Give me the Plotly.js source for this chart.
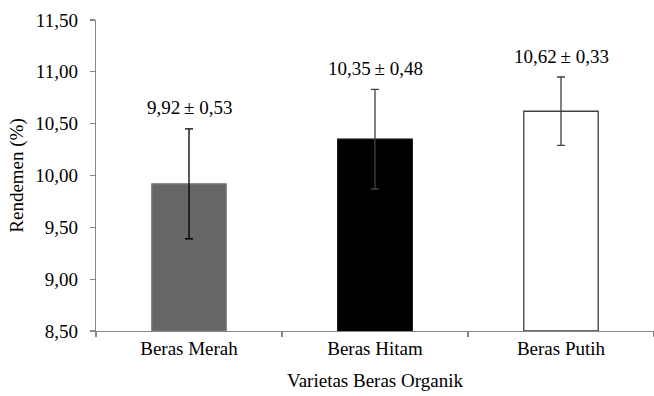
<!DOCTYPE html>
<html>
<head>
<meta charset="utf-8">
<script src="https://cdn.plot.ly/plotly-3.0.1.min.js"></script>
<style>
  html, body { margin: 0; padding: 0; background: #fff; }
  #chart { width: 654px; height: 396px; }
</style>
</head>
<body>
<div id="chart"></div>
<script>
// Rendemen per organic rice variety (mean ± SD)
const categories = ['Beras Merah', 'Beras Hitam', 'Beras Putih'];
const means = [9.92, 10.35, 10.62];
const sds = [0.53, 0.48, 0.33];
const fillColors = ['#666666', '#000000', '#ffffff'];
const edgeColors = ['#7a7a7a', '#000000', '#404040'];
const errColors = ['#000000', '#404040', '#404040'];

const fmt = v => v.toFixed(2).replace('.', ',');
const FONT = 'Liberation Serif';

const traces = categories.map((c, i) => ({
  type: 'bar',
  x: [c],
  y: [means[i] - 8.5],
  base: 8.5,
  width: 0.4,
  marker: { color: fillColors[i], line: { color: edgeColors[i], width: 1.3 } },
  error_y: { type: 'data', array: [sds[i]], visible: true, color: errColors[i], thickness: 1.3, width: 4 },
  hoverinfo: 'skip',
  showlegend: false
}));

const annotations = categories.map((c, i) => ({
  x: c,
  y: means[i] + sds[i],
  xref: 'x', yref: 'y',
  text: fmt(means[i]) + '\u2009± ' + fmt(sds[i]),
  showarrow: false,
  yanchor: 'middle',
  yshift: 21,
  font: { family: FONT, size: 19, color: '#000' }
}));

const layout = {
  width: 654, height: 396,
  margin: { l: 96, r: 0, t: 20, b: 65 },
  paper_bgcolor: '#fff', plot_bgcolor: '#fff',
  separators: ',.',
  barmode: 'overlay',
  font: { family: FONT, size: 19, color: '#000' },
  xaxis: {
    type: 'category',
    tickson: 'boundaries',
    ticks: 'outside', ticklen: 5, tickcolor: '#868686', tickwidth: 1.3,
    showline: true, linecolor: '#868686', linewidth: 1.3,
    showgrid: false, zeroline: false,
    tickfont: { family: FONT, size: 19, color: '#000' },
    title: { text: 'Varietas Beras Organik', font: { family: FONT, size: 19, color: '#000' }, standoff: 15 }
  },
  yaxis: {
    range: [8.5, 11.5],
    dtick: 0.5, tick0: 8.5,
    tickformat: '.2f',
    ticks: 'outside', ticklen: 5, tickcolor: '#868686', tickwidth: 1.3,
    ticklabelstandoff: 8,
    showline: true, linecolor: '#868686', linewidth: 1.3,
    showgrid: false, zeroline: false,
    tickfont: { family: FONT, size: 19, color: '#000' },
    title: { text: 'Rendemen (%)', font: { family: FONT, size: 19, color: '#000' }, standoff: 6 }
  },
  annotations: annotations
};

Plotly.newPlot('chart', traces, layout, { displayModeBar: false, staticPlot: true });
</script>
</body>
</html>
